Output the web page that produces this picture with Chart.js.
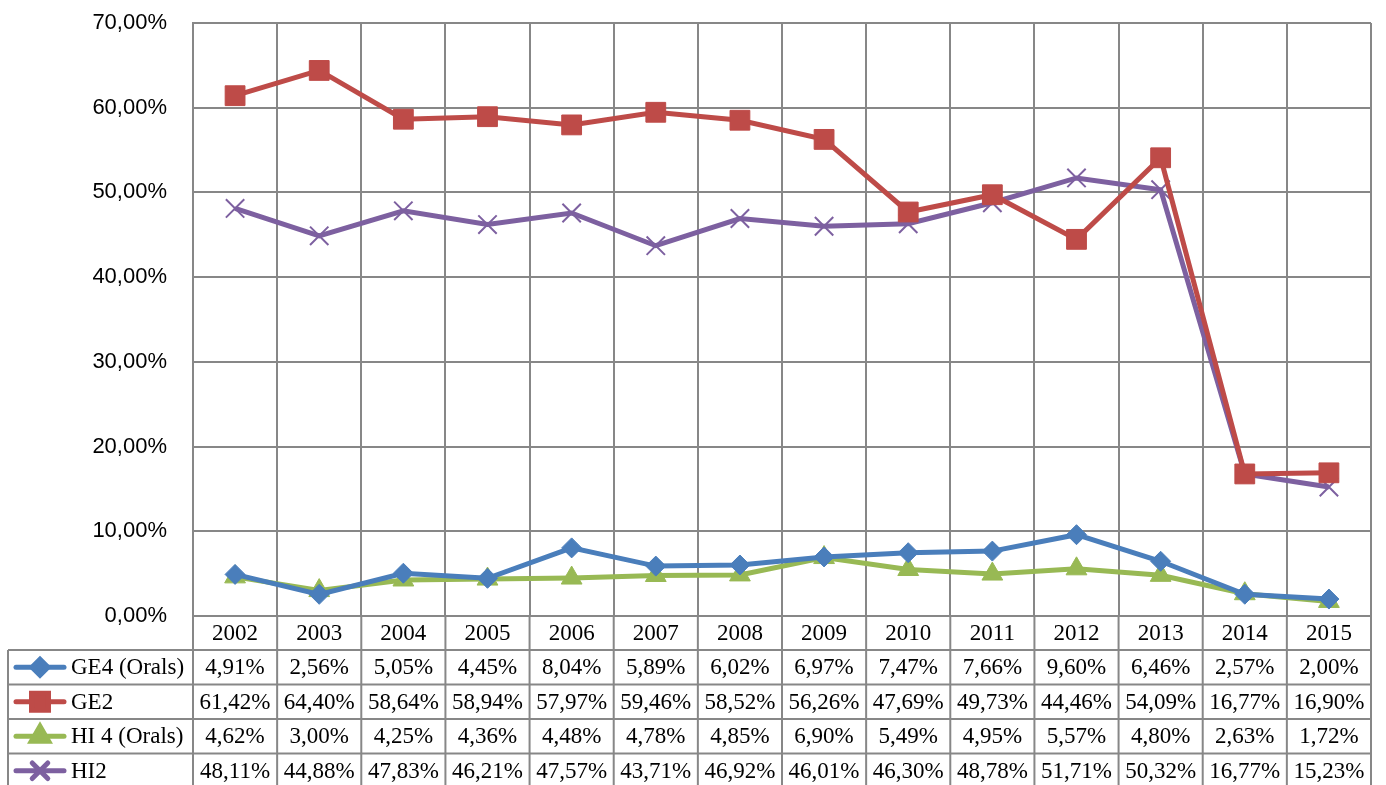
<!DOCTYPE html>
<html>
<head>
<meta charset="utf-8">
<script src="https://cdn.jsdelivr.net/npm/chart.js@4/dist/chart.umd.min.js"></script>
<style>
  html, body { margin: 0; padding: 0; background: #fff; }
  #wrap { width: 1386px; height: 785px; position: relative; }
</style>
</head>
<body>
<div id="wrap"><canvas id="myChart1"></canvas></div>
<script>
let years = ['2002','2003','2004','2005','2006','2007','2008','2009','2010','2011','2012','2013','2014','2015'];
let ge4 = [4.91, 2.56, 5.05, 4.45, 8.04, 5.89, 6.02, 6.97, 7.47, 7.66, 9.60, 6.46, 2.57, 2.00];
let ge2 = [61.42, 64.40, 58.64, 58.94, 57.97, 59.46, 58.52, 56.26, 47.69, 49.73, 44.46, 54.09, 16.77, 16.90];
let hi4 = [4.62, 3.00, 4.25, 4.36, 4.48, 4.78, 4.85, 6.90, 5.49, 4.95, 5.57, 4.80, 2.63, 1.72];
let hi2 = [48.11, 44.88, 47.83, 46.21, 47.57, 43.71, 46.92, 46.01, 46.30, 48.78, 51.71, 50.32, 16.77, 15.23];
let seriesNames = ['GE4 (Orals)', 'GE2', 'HI 4 (Orals)', 'HI2'];
let colorHex = ['#4A7EBB', '#BE4B48', '#98B954', '#7D60A0'];
let pointStyles = ['rectRot', 'rect', 'triangle', 'crossRot'];
let pointSizes = [10, 14, 12, 13];

const fmt = (v) => v.toFixed(2).replace('.', ',') + '%';
const gridColor = '#878787';

let ctx = document.getElementById('myChart1').getContext('2d');

// data table under the plot, aligned with the x scale
const tablePlugin = {
  id: 'dataTable',
  afterDraw(chart) {
    const c = chart.ctx;
    const xs = chart.scales.x;
    const area = chart.chartArea;
    const rows = [650, 684.5, 719, 753.5, 788];
    const leftX = 8;
    const half = (xs.getPixelForValue(1) - xs.getPixelForValue(0)) / 2;
    c.save();
    c.strokeStyle = gridColor;
    c.lineWidth = 2;
    c.beginPath();
    // horizontal lines
    rows.forEach(y => { c.moveTo(leftX, y); c.lineTo(area.right, y); });
    // left border of legend column
    c.moveTo(leftX, rows[0]); c.lineTo(leftX, 785);
    c.moveTo(area.left, area.bottom); c.lineTo(area.left, 785);
    // column lines
    for (let i = 0; i < years.length; i++) {
      const x = xs.getPixelForValue(i) + half;
      c.moveTo(x, area.bottom); c.lineTo(x, 785);
    }
    c.stroke();

    const data = [ge4, ge2, hi4, hi2];
    c.font = '23px "Liberation Serif"';
    c.fillStyle = '#000';
    c.textBaseline = 'middle';
    data.forEach((vals, r) => {
      const cy = (rows[r] + rows[r + 1]) / 2;
      c.textAlign = 'center';
      vals.forEach((v, i) => c.fillText(fmt(v), xs.getPixelForValue(i), cy + 1));
      // legend sample
      c.strokeStyle = colorHex[r];
      c.lineWidth = 5;
      c.lineCap = 'round';
      c.beginPath();
      c.moveTo(16, cy); c.lineTo(64, cy);
      c.stroke();
      c.fillStyle = colorHex[r];
      Chart.helpers.drawPoint(c, {
        pointStyle: pointStyles[r],
        radius: pointSizes[r] - 2,
        rotation: 0,
        borderWidth: pointStyles[r] === 'crossRot' ? 2 : 1
      }, 40, cy);
      c.fillStyle = '#000';
      c.textAlign = 'left';
      c.fillText(seriesNames[r], 71, cy + 1);
    });
    c.restore();
  }
};

const makeSet = (i, vals) => ({
  label: seriesNames[i],
  data: vals,
  borderColor: colorHex[i],
  backgroundColor: colorHex[i],
  borderWidth: 5,
  pointStyle: pointStyles[i],
  pointRadius: pointSizes[i],
  pointBorderWidth: pointStyles[i] === 'crossRot' ? 2 : 1,
  tension: 0
});

let myChart1 = new Chart(ctx, {
  type: 'line',
  data: {
    labels: years,
    datasets: [makeSet(0, ge4), makeSet(1, ge2), makeSet(2, hi4), makeSet(3, hi2)]
  },
  options: {
    responsive: true,
    maintainAspectRatio: false,
    animation: false,
    layout: { padding: { top: 23, right: 13, left: 0, bottom: 0 } },
    plugins: {
      legend: { display: false },
      tooltip: { enabled: false }
    },
    scales: {
      x: {
        offset: true,
        grid: { offset: true, color: gridColor, lineWidth: 2, drawTicks: false },
        border: { color: gridColor, width: 2 },
        ticks: {
          color: '#000',
          padding: 4,
          font: { family: 'Liberation Serif', size: 23 }
        },
        afterFit: (scale) => { scale.height = 169; }
      },
      y: {
        min: 0,
        max: 70,
        ticks: {
          stepSize: 10,
          color: '#000',
          padding: 26,
          font: { family: 'Liberation Sans', size: 22 },
          callback: (value) => fmt(value)
        },
        grid: { color: gridColor, lineWidth: 2, drawTicks: false },
        border: { color: gridColor, width: 2 },
        afterFit: (scale) => {
          scale.width = 193;
          scale.paddingTop = 0;
          scale.paddingBottom = 0;
        }
      }
    }
  },
  plugins: [tablePlugin]
});
</script>
</body>
</html>
